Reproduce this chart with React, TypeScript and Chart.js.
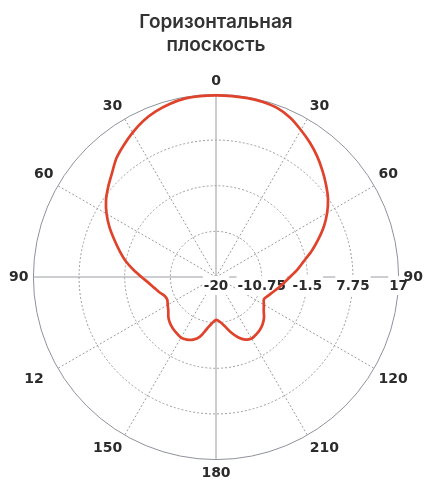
import React, { useEffect, useRef } from 'react';
import { Chart, registerables } from 'chart.js';

Chart.register(...registerables);

const titleLines = ['Горизонтальная', 'плоскость'];
// labels shown on the 30° spokes, clockwise from the top
const angleLabels = ['0', '30', '60', '90', '120', '210', '180', '150', '12\u2007', '90', '60', '30'];
const radialTickLabels = ['-20', '-10.75', '-1.5', '7.75', '17'];
const radialMin = -20;
const radialMax = 17;
const angleStepDeg = 5;
// pattern level every 5°, clockwise from 0°
const gain = [
  16.8, 16.8, 16.8, 16.7, 16.4, 15.6, 14.4, 13.2, 11.9, 10.5, 9.1, 7.7,
  6.0, 4.1, 2.0, 0.0, -2.0, -3.5, -5.0, -6.2, -7.2, -8.1, -8.8, -9.3,
  -8.8, -8.2, -7.3, -6.6, -6.1, -5.8, -5.6, -6.0, -7.0, -8.4, -9.9, -10.9,
  -11.3, -10.6, -9.3, -7.5, -6.5, -6.0, -5.8, -6.1, -6.4, -6.8, -7.4, -8.2,
  -8.7, -9.1, -8.9, -8.1, -7.3, -6.3, -4.9, -3.2, -1.4, 0.2, 1.9, 3.8,
  5.6, 7.2, 8.5, 9.8, 11.4, 12.6, 13.8, 14.9, 15.7, 16.3, 16.7, 16.8,
];

const categories = gain.map((_, i) => String(i * angleStepDeg));
const labelEvery = 30 / angleStepDeg;
const axisEvery = 90 / angleStepDeg;

const tickLabelPlugin = {
  id: 'radialTickLabels',
  beforeDatasetsDraw(chart: any) {
    const scale = chart.scales.r;
    const ctx = chart.ctx;
    const rightItem = scale._pointLabelItems ? scale._pointLabelItems[axisEvery] : null;
    ctx.save();
    ctx.font = 'bold 13.5px "DejaVu Sans"';
    ctx.textAlign = 'center';
    ctx.textBaseline = 'middle';
    scale.ticks.forEach((t: any, i: number) => {
      const label = radialTickLabels[i] ?? String(t.value);
      const x = scale.xCenter + scale.getDistanceFromCenterForValue(t.value);
      const y = scale.yCenter + 9;
      const w = ctx.measureText(label).width;
      ctx.save();
      if (rightItem) {
        ctx.beginPath();
        ctx.rect(0, 0, chart.width, chart.height);
        ctx.rect(rightItem.left, rightItem.top, rightItem.right - rightItem.left, rightItem.bottom - rightItem.top);
        ctx.clip('evenodd');
      }
      ctx.fillStyle = '#ffffff';
      ctx.fillRect(x - w / 2 - 1, y - 10, w + 2, 19);
      ctx.restore();
      ctx.fillStyle = '#2b2b2b';
      ctx.fillText(label, x, y);
    });
    ctx.restore();
  },
};

export default function App() {
  const canvasRef = useRef<HTMLCanvasElement | null>(null);

  useEffect(() => {
    document.body.style.margin = '0';
    const canvas = canvasRef.current;
    if (!canvas) return;
    const chart = new Chart(canvas, {
      type: 'radar',
      data: {
        labels: categories,
        datasets: [
          {
            data: gain,
            borderColor: '#df432c',
            borderWidth: 2.7,
            pointRadius: 0,
            pointHoverRadius: 0,
            fill: false,
            tension: 0.25,
          },
        ],
      },
      options: {
        responsive: false,
        animation: false,
        layout: { padding: { left: 8, right: 1, top: 0, bottom: 0 } },
        plugins: {
          legend: { display: false },
          tooltip: { enabled: false },
          title: {
            display: true,
            text: titleLines,
            color: '#333333',
            font: { family: 'Inter', size: 19, weight: '600', lineHeight: 1.2 },
            padding: { top: 11, bottom: 16 },
          },
        },
        scales: {
          r: {
            min: radialMin,
            max: radialMax,
            startAngle: 0,
            ticks: { display: false, count: radialTickLabels.length },
            grid: {
              circular: true,
              color: (c: any) => (c.index === radialTickLabels.length - 1 ? '#8e929c' : '#9c9c9c'),
              lineWidth: 1,
            },
            border: {
              dash: (c: any) => (c.index === radialTickLabels.length - 1 ? [] : [2, 2]),
            },
            angleLines: {
              display: true,
              color: (c: any) => (c.index % axisEvery === 0 ? '#9a9ca4' : '#9c9c9c'),
              lineWidth: (c: any) => (c.index % labelEvery === 0 ? 1 : 0),
              borderDash: (c: any) => (c.index % axisEvery === 0 ? [] : [2, 2]),
            },
            pointLabels: {
              display: true,
              padding: 5,
              color: '#2b2b2b',
              font: { family: 'DejaVu Sans', size: 14, weight: 'bold' },
              callback: (_l: string, i: number) => (i % labelEvery === 0 ? angleLabels[i / labelEvery] : ''),
            },
          },
        },
      },
      plugins: [tickLabelPlugin],
    });
    return () => chart.destroy();
  }, []);

  return (
    <div style={{ position: 'absolute', left: 0, top: 0, width: 425, height: 482 }}>
      <canvas ref={canvasRef} width={425} height={482} style={{ display: 'block' }} />
    </div>
  );
}
